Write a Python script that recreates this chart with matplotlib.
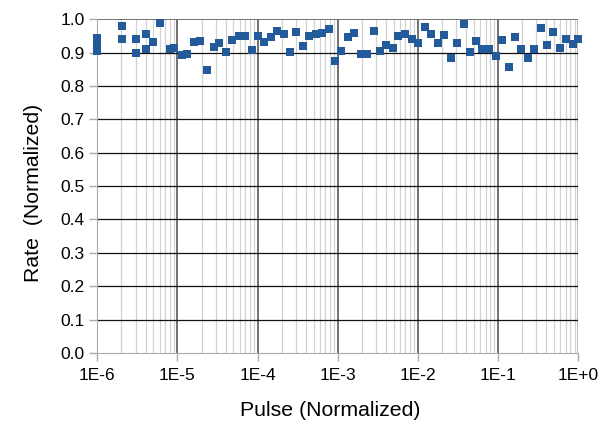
import numpy as np
import matplotlib
matplotlib.use('Agg')
import matplotlib.pyplot as plt
from matplotlib.ticker import FixedLocator, FuncFormatter, LogLocator, NullFormatter

plt.rcParams['font.family'] = ['Liberation Sans', 'DejaVu Sans']

# pulse as log10 exponent
pulse_exp = [-6.0, -6.0, -6.0, -5.695, -5.695, -5.52, -5.52, -5.395, -5.395,
             -5.30, -5.216, -5.091, -5.0375, -4.945, -4.8825, -4.791, -4.716,
             -4.6325, -4.55, -4.479, -4.395, -4.32, -4.2375, -4.154, -4.07,
             -4.0, -3.916, -3.8325, -3.7575, -3.675, -3.6, -3.516, -3.4375,
             -3.354, -3.27, -3.195, -3.1125, -3.029, -2.9575, -2.875, -2.791,
             -2.716, -2.6325, -2.55, -2.475, -2.40, -2.3125, -2.245, -2.1625,
             -2.079, -1.995, -1.9125, -1.8325, -1.754, -1.67, -1.591, -1.5125,
             -1.429, -1.35, -1.27, -1.195, -1.1125, -1.029, -0.95, -0.866,
             -0.791, -0.7075, -0.625, -0.55, -0.47, -0.391, -0.3125, -0.229,
             -0.15, -0.07, 0.0]
rate = [0.945, 0.925, 0.905, 0.980, 0.941, 0.940, 0.900, 0.955, 0.911,
        0.932, 0.988, 0.910, 0.915, 0.894, 0.895, 0.932, 0.934,
        0.848, 0.916, 0.928, 0.902, 0.938, 0.951, 0.950, 0.908,
        0.950, 0.931, 0.946, 0.966, 0.955, 0.902, 0.962, 0.920,
        0.950, 0.955, 0.960, 0.971, 0.876, 0.905, 0.948, 0.960,
        0.897, 0.897, 0.964, 0.904, 0.924, 0.913, 0.951, 0.957,
        0.942, 0.929, 0.978, 0.955, 0.929, 0.953, 0.885, 0.928,
        0.986, 0.903, 0.934, 0.912, 0.912, 0.891, 0.937, 0.858,
        0.947, 0.912, 0.884, 0.910, 0.975, 0.922, 0.961, 0.914,
        0.941, 0.927, 0.942]

pulse = 10.0 ** np.array(pulse_exp)

fig = plt.figure(figsize=(6.08, 4.40), dpi=100)
ax = fig.add_axes([0.160, 0.198, 0.791, 0.758])

ax.set_xscale('log')
ax.set_xlim(1e-6, 1)
ax.set_ylim(0, 1.0)

# ticks
ax.xaxis.set_major_locator(FixedLocator([10.0 ** e for e in range(-6, 1)]))
ax.xaxis.set_minor_locator(LogLocator(base=10, subs=np.arange(2, 10), numticks=20))
ax.xaxis.set_minor_formatter(NullFormatter())
ax.xaxis.set_major_formatter(FuncFormatter(lambda v, p: "1E%+d" % int(round(np.log10(v)))))
ax.set_yticks(np.arange(0, 1.01, 0.1))
ax.yaxis.set_major_formatter(FuncFormatter(lambda v, p: "%.1f" % v))

# grid
ax.grid(True, which='minor', axis='x', color='#d2d2d2', linewidth=0.9)
ax.grid(True, which='major', axis='x', color='#4a4a4a', linewidth=1.1)
ax.grid(True, which='major', axis='y', color='#111111', linewidth=0.9)
ax.set_axisbelow(True)

# border: light gray on left/bottom/right, dark gray on top
xg = ax.xaxis.get_gridlines()
xg[0].set_visible(False)
xg[-1].set_color('#aaaaaa')
yg = ax.yaxis.get_gridlines()
yg[0].set_visible(False)
yg[-1].set_color('#666666')
yg[-1].set_linewidth(1.3)

for s in ['top', 'right']:
    ax.spines[s].set_visible(False)
ax.spines['left'].set_color('#aaaaaa')
ax.spines['bottom'].set_color('#aaaaaa')

ax.tick_params(axis='both', which='major', labelsize=12.5, color='#aaaaaa', length=6, width=1, pad=3)
ax.tick_params(axis='x', which='major', pad=5)
ax.tick_params(axis='x', which='minor', length=0)

ax.scatter(pulse, rate, marker='s', s=38, color='#235a9a', linewidths=0, zorder=3, clip_on=False)

ax.set_xlabel('Pulse (Normalized)', fontsize=15.3)
ax.set_ylabel('Rate  (Normalized)', fontsize=15.3)
ax.xaxis.set_label_coords(0.484, -0.143)
ax.yaxis.set_label_coords(-0.112, 0.48)

fig.savefig('out.png', dpi=100)
